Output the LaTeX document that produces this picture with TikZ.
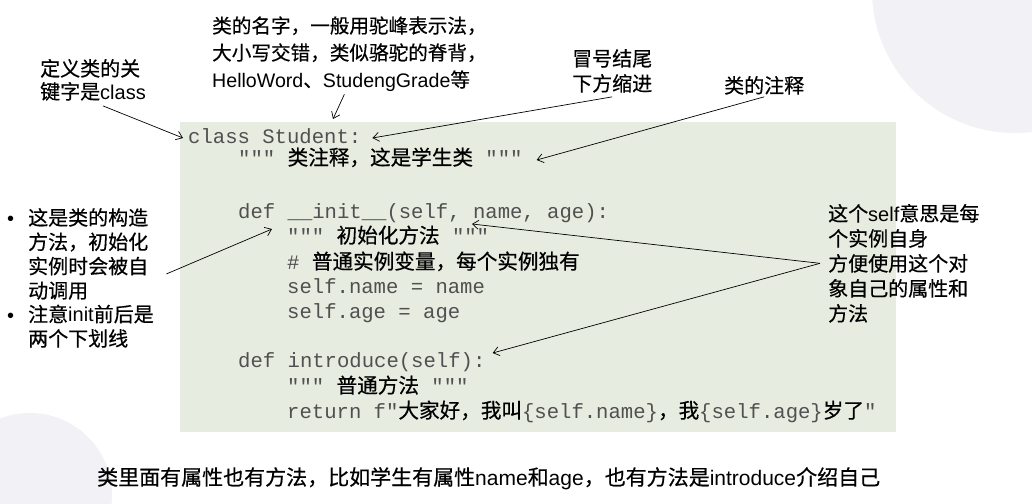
\documentclass[tikz,border=0pt]{standalone}
\usepackage{fontspec}
\usetikzlibrary{arrows.meta}
\setmainfont{Liberation Sans}
\setmonofont{Liberation Mono}
\newfontfamily\cjk[FakeBold=0.5]{Noto Sans CJK SC}
\newcommand{\zh}[1]{{\cjk\color{black}#1}}
\definecolor{codebg}{RGB}{231,236,224}
\definecolor{blobgray}{RGB}{242,242,246}
\definecolor{codegray}{RGB}{80,80,80}

\begin{document}
\begin{tikzpicture}[x=1pt,y=-1pt,
    note/.style={anchor=base west,align=left,inner sep=0pt,font=\fontsize{20}{25}\selectfont},
    code/.style={anchor=west,inner sep=0pt,text height=15pt,text depth=5pt,
      text=codegray,font=\fontsize{20.6}{25}\ttfamily},
    arr/.style={-{Straight Barb[length=6pt,width=9pt]},line width=0.7pt}]
    \useasboundingbox (0,0) rectangle (1032,503);
    \fill[white] (0,0) rectangle (1032,503);
    \begin{scope}
      \clip (0,0) rectangle (1032,503);
      \fill[blobgray] (1015,-10) circle (143);
      \fill[blobgray] (30,495) circle (82);
    \end{scope}
    \fill[codebg] (180,122) rectangle (896,432);

    % code
    \node[code] (cls) at (188,138) {class Student:};
    \node[code] (docl) at (238,160) {""" \zh{类注释，这是学生类} """};
    \node[code] (initl) at (238,213) {def \_\_init\_\_(self, name, age):};
    \node[code] (initdoc) at (287,238) {""" \zh{初始化方法} """};
    \node[code] (cmt) at (287,264) {\# \zh{普通实例变量，每个实例独有}};
    \node[code] (nm) at (287,288) {self.name = name};
    \node[code] (ag) at (287,313) {self.age = age};
    \node[code] (intro) at (238,362) {def introduce(self):};
    \node[code] (introdoc) at (287,388) {""" \zh{普通方法} """};
    \node[code] (ret) at (287,413) {return f"\zh{大家好，我叫}\{self.name\}\zh{，我}\{self.age\}\zh{岁了}"};

    % notes (placed at the baseline of their last line)
    \node[note,font=\fontsize{20}{23}\selectfont] (kw) at (40,99) {\zh{定义类的关}\\\zh{键字是}class};
    \node[note,font=\fontsize{19.6}{27}\selectfont] (name) at (212,87) {\zh{类的名字，一般用驼峰表示法，}\\\zh{大小写交错，类似骆驼的脊背，}\\HelloWord\zh{、}StudengGrade\zh{等}};
    \node[note] (colon) at (572,91) {\zh{冒号结尾}\\\zh{下方缩进}};
    \node[note] (doc) at (724,93) {\zh{类的注释}};
    \node[note,font=\fontsize{20}{24.3}\selectfont] (ctorA) at (28,298) {\zh{这是类的构造}\\\zh{方法，初始化}\\\zh{实例时会被自}\\\zh{动调用}};
    \node[note,font=\fontsize{20}{24.3}\selectfont] (ctorB) at (28,346) {\zh{注意}init\zh{前后是}\\\zh{两个下划线}};
    \node[note] (dotA) at (7,225) {•};
    \node[note] (dotB) at (7,322) {•};
    \node[note] (self) at (828,321) {\zh{这个}self\zh{意思是每}\\\zh{个实例自身}\\\zh{方便使用这个对}\\\zh{象自己的属性和}\\\zh{方法}};
    \node[note,font=\fontsize{21}{25}\selectfont] (sum) at (97,485) {\zh{类里面有属性也有方法，比如学生有属性}name\zh{和}age\zh{，也有方法是}introduce\zh{介绍自己}};

    \coordinate (nametip) at (333,119);
    \draw[arr] ([shift={(10,5)}]kw.south) -- ([xshift=-5pt]cls.west);
    \draw[arr] ([shift={(-5,3)}]name.south) -- (nametip);
    \draw[arr] ([yshift=-4pt]colon.south) -- ([xshift=11pt]cls.east);
    \draw[arr] ([yshift=-2pt]doc.south) -- ([xshift=14pt]docl.east);
    \draw[arr] ([shift={(18,20)}]ctorA.east) -- ([shift={(34,16)}]initl.west);
    \draw[arr] ([xshift=-8pt]self.west) -- ([shift={(234,11)}]initl.west);
    \draw[arr] ([xshift=-8pt]self.west) -- ([shift={(7,-9)}]intro.east);
  \end{tikzpicture}
\end{document}
